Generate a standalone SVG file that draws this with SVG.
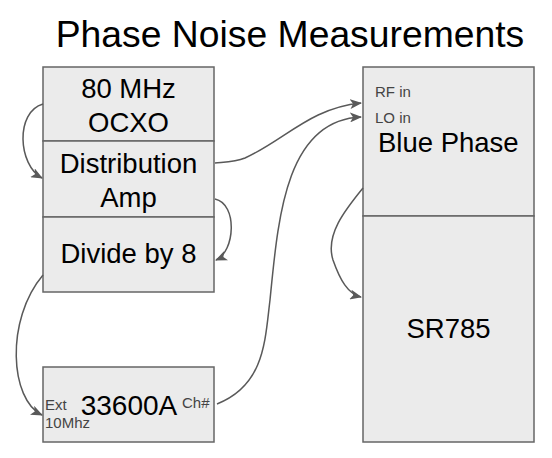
<svg xmlns="http://www.w3.org/2000/svg" width="552" height="458" viewBox="0 0 552 458">
<style>
.box{fill:#ebebeb;stroke:#666666;stroke-width:1.5}
.t{font-family:"Liberation Sans",Arial,sans-serif;fill:#000;font-size:27.5px}
.s{font-family:"Liberation Sans",Arial,sans-serif;fill:#444;font-size:15px}
.c{fill:none;stroke:#595959;stroke-width:1.5}
</style>
<defs>
<marker id="ah" markerWidth="12" markerHeight="10" refX="11" refY="5" orient="auto" markerUnits="userSpaceOnUse">
<path d="M0,0 L12,5 L0,10 L3,5 Z" fill="#595959"/>
</marker>
</defs>
<rect width="552" height="458" fill="#ffffff"/>
<text class="t" x="290" y="47" style="font-size:37.3px" text-anchor="middle">Phase Noise Measurements</text>
<g id="ocxo">
<rect class="box" x="43" y="67" width="171" height="74"/>
<text class="t" x="128.5" y="98" text-anchor="middle">80 MHz</text>
<text class="t" x="128.5" y="132" text-anchor="middle">OCXO</text>
</g>
<g id="distamp">
<rect class="box" x="43" y="141" width="171" height="76"/>
<text class="t" x="128.5" y="173" text-anchor="middle">Distribution</text>
<text class="t" x="128.5" y="207" text-anchor="middle">Amp</text>
</g>
<g id="divide">
<rect class="box" x="43" y="217" width="171" height="75"/>
<text class="t" x="128.5" y="263" text-anchor="middle">Divide by 8</text>
</g>
<g id="gen">
<rect class="box" x="43" y="367" width="171" height="75"/>
<text class="t" x="129" y="415" style="font-size:28px" text-anchor="middle">33600A</text>
<text class="s" x="45" y="410">Ext</text>
<text class="s" x="45" y="428">10Mhz</text>
<text class="s" x="182" y="408">Ch#</text>
</g>
<g id="bluephase">
<rect class="box" x="363" y="67" width="171" height="149"/>
<text class="s" x="375" y="97">RF in</text>
<text class="s" x="375" y="123">LO in</text>
<text class="t" x="378" y="152">Blue Phase</text>
</g>
<g id="sr785">
<rect class="box" x="363" y="216" width="171" height="226"/>
<text class="t" x="448.5" y="338" text-anchor="middle">SR785</text>
</g>
<g id="connectors">
<path class="c" marker-end="url(#ah)" d="M43,104 C15,112 18,165 42,178"/>
<path class="c" marker-end="url(#ah)" d="M215,163 C225,162 235,162 245,158 C285,140 310,108 361,103"/>
<path class="c" marker-end="url(#ah)" d="M215,199 C238,204 235,252 216,260"/>
<path class="c" marker-end="url(#ah)" d="M43,275 C5,320 10,400 42,415"/>
<path class="c" marker-end="url(#ah)" d="M217,404 C265,385 265,340 270,300 C278,220 285,120 361,117"/>
<path class="c" marker-end="url(#ah)" d="M363,188 C345,210 325,235 333,260 C340,280 348,294 361,297"/>
</g>
</svg>
